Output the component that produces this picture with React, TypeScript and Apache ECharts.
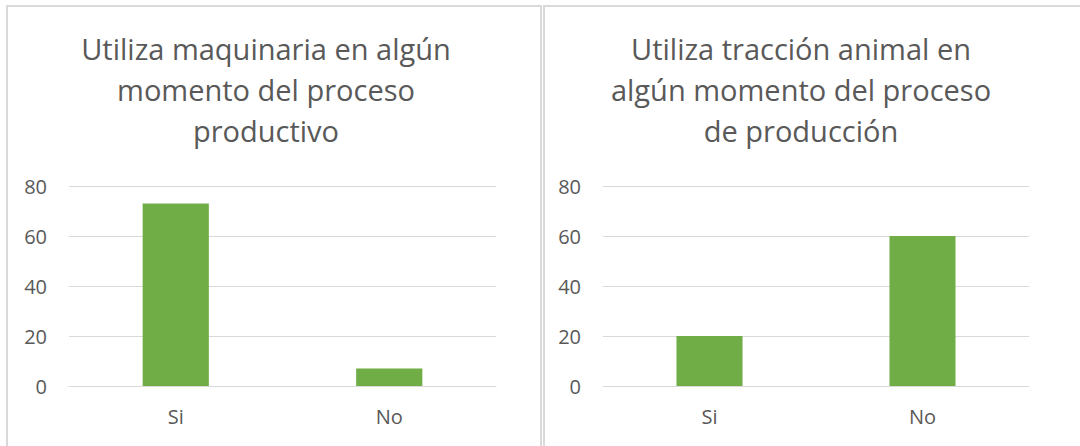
import React, { useEffect, useRef } from "react";
import * as echarts from "echarts";

const categories = ["Si", "No"];
const maquinariaValues = [73, 7];
const traccionValues = [20, 60];
const yTicks = [0, 20, 40, 60, 80];
const titleLeft = "Utiliza maquinaria en algún\nmomento del proceso\nproductivo";
const titleRight = "Utiliza tracción animal en\nalgún momento del proceso\nde producción";

const FONT = "'Open Sans', 'Noto Sans', sans-serif";
const TEXT = "#595959";
const GRID = "#d9d9d9";
const BAR = "#70ad47";

export default function App() {
  const ref = useRef<HTMLDivElement>(null);
  useEffect(() => {
    document.body.style.margin = "0";
    if (!ref.current) return;
    const chart = echarts.init(ref.current, undefined, { renderer: "svg" });
    const yMax = yTicks[yTicks.length - 1];
    const yInterval = yTicks[1] - yTicks[0];
    const mkX = (gi: number) => ({
      type: "category" as const,
      gridIndex: gi,
      data: categories,
      axisTick: { show: false },
      axisLine: { lineStyle: { color: GRID, width: 1 } },
      axisLabel: { color: TEXT, fontSize: 20, fontFamily: FONT, margin: 20 },
    });
    const mkY = (gi: number) => ({
      type: "value" as const,
      gridIndex: gi,
      min: yTicks[0],
      max: yMax,
      interval: yInterval,
      axisLine: { show: false },
      axisTick: { show: false },
      splitLine: { lineStyle: { color: GRID, width: 1 } },
      axisLabel: { color: TEXT, fontSize: 20, fontFamily: FONT, margin: 22 },
    });
    const titleStyle = { color: TEXT, fontSize: 29, fontWeight: "normal", fontFamily: FONT, lineHeight: 41 };
    chart.setOption({
      animation: false,
      backgroundColor: "#ffffff",
      title: [
        { text: titleLeft, left: 261, top: 23, textAlign: "center", textStyle: titleStyle },
        { text: titleRight, left: 796, top: 23, textAlign: "center", textStyle: titleStyle },
      ],
      grid: [
        { left: 69, width: 427, top: 186, height: 200 },
        { left: 603, width: 426, top: 186, height: 200 },
      ],
      xAxis: [mkX(0), mkX(1)],
      yAxis: [mkY(0), mkY(1)],
      series: [
        {
          type: "bar",
          xAxisIndex: 0,
          yAxisIndex: 0,
          data: maquinariaValues,
          barWidth: "31%",
          itemStyle: { color: BAR },
        },
        {
          type: "bar",
          xAxisIndex: 1,
          yAxisIndex: 1,
          data: traccionValues,
          barWidth: "31%",
          itemStyle: { color: BAR },
        },
      ],
      graphic: [
        {
          type: "rect",
          shape: { x: 7, y: 6, width: 534, height: 500 },
          style: { fill: "none", stroke: GRID, lineWidth: 2 },
          silent: true,
        },
        {
          type: "rect",
          shape: { x: 544, y: 6, width: 600, height: 500 },
          style: { fill: "none", stroke: GRID, lineWidth: 2 },
          silent: true,
        },
      ],
    });
    return () => chart.dispose();
  }, []);
  return <div ref={ref} style={{ width: 1080, height: 446 }} />;
}
